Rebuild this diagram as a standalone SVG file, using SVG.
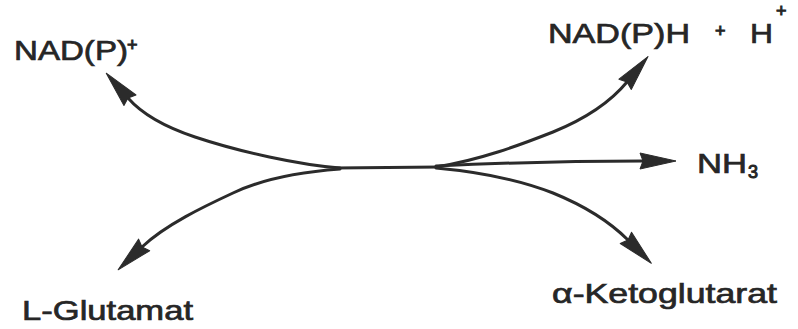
<svg xmlns="http://www.w3.org/2000/svg" width="798" height="329" viewBox="0 0 798 329">
  <style>
    .lbl { font-family: "Liberation Sans", Arial, Helvetica, sans-serif; font-size: 28px; fill: #262626; stroke: #262626; stroke-width: 0.7px; }
    .sm { font-size: 18px; stroke-width: 1px; }
    .conn { fill: none; stroke: #2b2b2b; stroke-width: 3; stroke-linecap: round; }
  </style>
  <defs>
    <marker id="ah" markerUnits="userSpaceOnUse" markerWidth="40" markerHeight="18" refX="3" refY="8" orient="auto" overflow="visible">
      <path d="M0,0 L36,8 L0,16 L3,8 z" fill="#2b2b2b" stroke="#2b2b2b" stroke-width="1" stroke-linejoin="round"/>
    </marker>
  </defs>
  <rect width="798" height="329" fill="#ffffff"/>

  <g id="connectors">
    <path class="conn" d="M335,168 L440,167"/>
    <path class="conn" marker-end="url(#ah)" d="M340,168 C300,165 240,152 195,137 C165,127 142,114 128,98"/>
    <path class="conn" marker-end="url(#ah)" d="M340,169 C300,172 260,180 233,193 C205,206 165,225 142,247"/>
    <path class="conn" marker-end="url(#ah)" d="M436,167 C480,160 520,145 553,132 C580,121 608,105 627,82"/>
    <path class="conn" marker-end="url(#ah)" d="M436,166 C520,162 580,161 643,161"/>
    <path class="conn" marker-end="url(#ah)" d="M436,168 C480,172 520,180 553,193 C580,204 608,220 628,240"/>
  </g>

  <g id="nadp">
    <text class="lbl" x="14" y="60" textLength="114" lengthAdjust="spacingAndGlyphs">NAD(P)</text>
    <text class="lbl sm" x="127" y="51">+</text>
  </g>
  <g id="nadph">
    <text class="lbl" x="548" y="43" textLength="142" lengthAdjust="spacingAndGlyphs">NAD(P)H</text>
    <text class="lbl sm" x="715" y="37">+</text>
    <text class="lbl" x="750" y="43" textLength="23" lengthAdjust="spacingAndGlyphs">H</text>
    <text class="lbl sm" x="776" y="17">+</text>
  </g>
  <g id="nh3">
    <text class="lbl" x="697" y="173" textLength="50" lengthAdjust="spacingAndGlyphs">NH</text>
    <text class="lbl sm" x="748" y="178">3</text>
  </g>
  <g id="glutamat">
    <text class="lbl" x="22" y="320" textLength="171" lengthAdjust="spacingAndGlyphs">L-Glutamat</text>
  </g>
  <g id="ketoglutarat">
    <text class="lbl" x="552" y="303" textLength="225" lengthAdjust="spacingAndGlyphs">α-Ketoglutarat</text>
  </g>
</svg>
